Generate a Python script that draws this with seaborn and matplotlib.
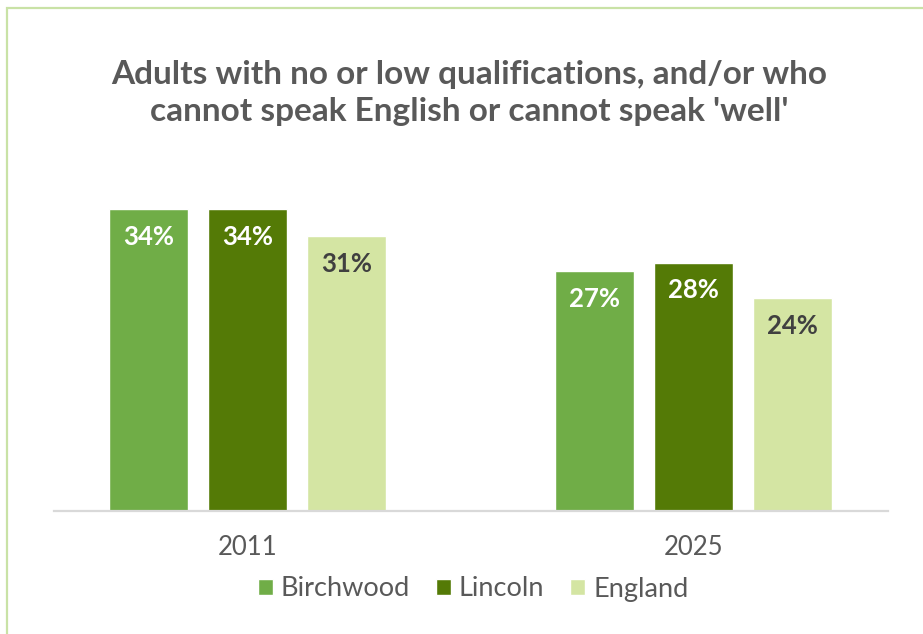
import matplotlib
matplotlib.use("Agg")
import matplotlib.pyplot as plt
from matplotlib.patches import Rectangle
import seaborn as sns
import pandas as pd

# Share of adults with no/low qualifications and/or poor spoken English (%)
years = ["2011", "2025"]
areas = ["Birchwood", "Lincoln", "England"]
birchwood = [34, 27]
lincoln = [34, 28]
england = [31, 24]

palette = {"Birchwood": "#70ad47", "Lincoln": "#547a06", "England": "#d4e5a3"}
label_colors = {"Birchwood": "white", "Lincoln": "white", "England": "#404040"}

df = pd.DataFrame({
    "year": years * 3,
    "area": [a for a in areas for _ in years],
    "value": birchwood + lincoln + england,
})

sns.set_theme(style="white")
plt.rcParams["font.family"] = ["Lato", "DejaVu Sans"]

W, H = 923, 634
fig = plt.figure(figsize=(W / 100, H / 100), dpi=100)
ax = fig.add_axes([54 / W, 123 / H, 834 / W, 310.5 / H])

sns.barplot(data=df, x="year", y="value", hue="area", hue_order=areas,
            order=years, palette=palette, width=0.666, gap=0.2,
            saturation=1, ax=ax, legend=True)

ax.set_xlim(-0.434, 1.436)
ax.set_ylim(0, 35)
ax.set_xlabel("")
ax.set_ylabel("")
ax.set_yticks([])
for side in ["left", "right", "top"]:
    ax.spines[side].set_visible(False)
ax.spines["bottom"].set_color("#d9d9d9")
ax.spines["bottom"].set_linewidth(1.6)
ax.tick_params(axis="x", length=0, pad=17.5, labelsize=18.5, labelcolor="#595959")

# Value labels just inside the top of each bar
for container, area in zip(ax.containers, areas):
    for bar in container:
        h = bar.get_height()
        ax.annotate(f"{h:.0f}%", (bar.get_x() + bar.get_width() / 2, h),
                    xytext=(0, -20), textcoords="offset points",
                    ha="center", va="center", fontsize=18.5, fontweight="bold",
                    color=label_colors[area])

# Legend below the axis
handles, labels = ax.get_legend_handles_labels()
ax.legend_.remove()
fig.legend(handles, labels, loc="center", bbox_to_anchor=(473 / W, 1 - 589 / H),
           ncol=3, frameon=False, handlelength=0.55, handleheight=0.55,
           handletextpad=0.3, columnspacing=0.95,
           prop={"size": 19.5}, labelcolor="#595959")

fig.text(469 / W, 1 - 93 / H,
         "Adults with no or low qualifications, and/or who\n"
         "cannot speak English or cannot speak 'well'",
         ha="center", va="center", fontsize=24, fontweight="bold",
         color="#595959", linespacing=1.36)

# Light green frame around the chart area
fig.patches.append(Rectangle((7 / W, -0.05), 1.2, 1 - 8 / H + 0.05,
                             transform=fig.transFigure, fill=False,
                             edgecolor="#c9e2a6", linewidth=1.6))

fig.savefig("out.png", dpi=100)
